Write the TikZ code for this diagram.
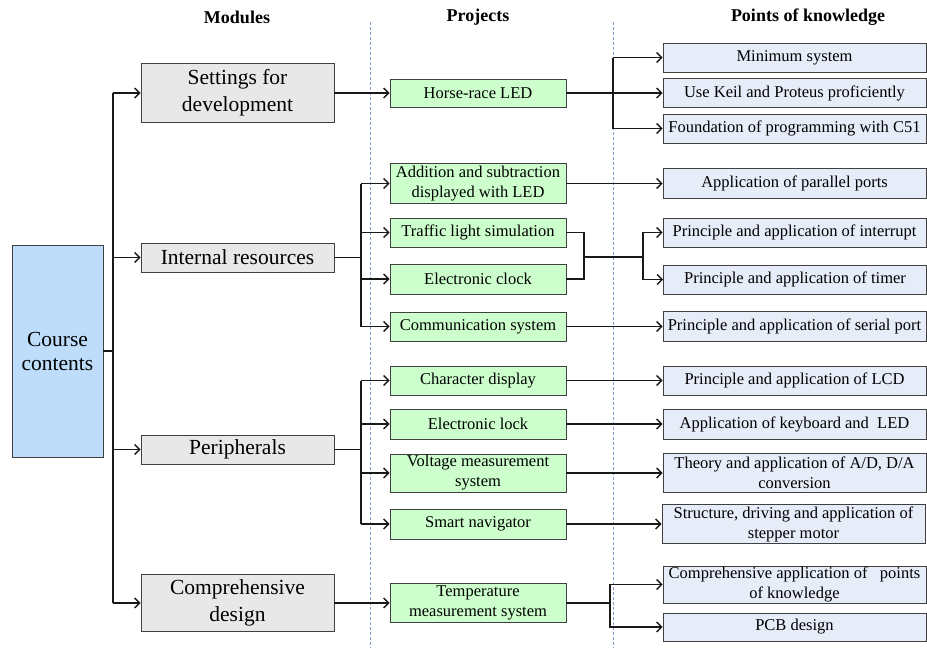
\documentclass[tikz,border=0pt]{standalone}
\usepackage{fontspec}
\setmainfont{Liberation Serif}
\usetikzlibrary{arrows.meta}
\definecolor{coursefill}{HTML}{BDDDFB}
\definecolor{modfill}{HTML}{E8E8E8}
\definecolor{projfill}{HTML}{CCFFCC}
\definecolor{knowfill}{HTML}{E6ECF8}
\definecolor{dashcol}{HTML}{7F9FD0}
\tikzset{
  box/.style={draw=black!75, line width=0.9pt, inner sep=0pt, align=center},
  course/.style={box, fill=coursefill, minimum width=91pt, font=\fontsize{21.5}{24}\selectfont},
  module/.style={box, fill=modfill, minimum width=193pt, font=\fontsize{21.5}{27}\selectfont},
  proj/.style={box, fill=projfill, minimum width=176pt, font=\fontsize{16.5}{20}\selectfont},
  know/.style={box, fill=knowfill, minimum width=263pt, font=\fontsize{16.5}{20}\selectfont},
  head/.style={font=\fontsize{18}{22}\selectfont\bfseries},
  conn/.style={line width=1.3pt, black!90},
  arr/.style={conn, -{Straight Barb[length=5pt,width=10pt]}},
  sep/.style={dashcol, line width=0.9pt, dash pattern=on 3pt off 2pt}
}
\begin{document}
\begin{tikzpicture}[x=1pt,y=-1pt]
\useasboundingbox (0,0) rectangle (927,649);
% headers
\node[head] (hm) at (237,17) {Modules};
\node[head] (hp) at (478,17) {Projects};
\node[head] (hk) at (808,17) {Points of knowledge};
% separators
\draw[sep] (370,22) -- (370,648);
\draw[sep] (613,22) -- (613,648);
% course
\node[course, minimum height=212pt] (course) at (57.5,351) {Course\\contents};
% modules
\node[module, minimum height=59pt] (set) at (237.5,93) {Settings for\\development};
\node[module, minimum height=29pt] (int) at (237.5,257.5) {Internal resources};
\node[module, minimum height=29pt] (per) at (237.5,449.5) {Peripherals};
\node[module, minimum height=57pt] (comp) at (237.5,603) {Comprehensive\\design};
% projects
\node[proj, minimum height=28pt] (horse) at (478,93) {Horse-race LED};
\node[proj, minimum height=40pt] (add) at (478,183.5) {Addition and subtraction\\displayed with LED};
\node[proj, minimum height=29pt] (traffic) at (478,232.5) {Traffic light simulation};
\node[proj, minimum height=30pt] (clock) at (478,279) {Electronic clock};
\node[proj, minimum height=29pt] (comm) at (478,326.5) {Communication system};
\node[proj, minimum height=29pt] (char) at (478,380.5) {Character display};
\node[proj, minimum height=30pt] (lock) at (478,424) {Electronic lock};
\node[proj, minimum height=38pt] (volt) at (478,473) {Voltage measurement\\system};
\node[proj, minimum height=30pt] (smart) at (478,524) {Smart navigator};
\node[proj, minimum height=39pt] (temp) at (478,603) {Temperature\\measurement system};
% knowledge
\node[know, minimum height=29pt] (min) at (794.5,57.5) {Minimum system};
\node[know, minimum height=29pt] (keil) at (794.5,93) {Use Keil and Proteus proficiently};
\node[know, minimum height=29pt] (c51) at (794.5,128.5) {Foundation of programming with C51};
\node[know, minimum height=30pt] (par) at (794.5,183.5) {Application of parallel ports};
\node[know, minimum height=29pt] (intr) at (794.5,232.5) {Principle and application of interrupt};
\node[know, minimum height=29pt] (timer) at (795,279.5) {Principle and application of timer};
\node[know, minimum height=30pt] (serial) at (794.5,326.5) {Principle and application of serial port};
\node[know, minimum height=29pt] (lcd) at (794.5,380.5) {Principle and application of LCD};
\node[know, minimum height=30pt] (kbd) at (794.5,424) {Application of keyboard and~ LED};
\node[know, minimum height=39pt] (ad) at (794.5,473) {Theory and application of A/D, D/A\\conversion};
\node[know, minimum height=39pt] (step) at (793.5,524) {Structure, driving and application of\\stepper motor};
\node[know, minimum height=37pt] (compk) at (794.5,584.5) {Comprehensive application of ~~points\\of knowledge};
\node[know, minimum height=28pt] (pcb) at (794.5,627) {PCB design};
% trunk
\coordinate (t) at (113,351);
\draw[conn] (course.east) -- (t);
\draw[conn] (t |- set) -- (t |- comp);
\foreach \m in {set,int,per,comp} \draw[arr] (t |- \m) -- (\m.west);
% modules to projects
\draw[arr] (set.east) -- (horse.west);
\draw[arr] (comp.east) -- (temp.west);
\coordinate (ib) at (361,257.5);
\draw[conn] (int.east) -- (ib);
\draw[conn] (ib |- add) -- (ib |- comm);
\foreach \p in {add,traffic,clock,comm} \draw[arr] (ib |- \p) -- (\p.west);
\coordinate (pb) at (361,449.5);
\draw[conn] (per.east) -- (pb);
\draw[conn] (pb |- char) -- (pb |- smart);
\foreach \p in {char,lock,volt,smart} \draw[arr] (pb |- \p) -- (\p.west);
% projects to knowledge
\coordinate (hb) at (613,93);
\draw[conn] (horse.east) -- (hb);
\draw[conn] (hb |- min) -- (hb |- c51);
\foreach \k in {min,keil,c51} \draw[arr] (hb |- \k) -- (\k.west);
\draw[arr] (add.east) -- (par.west);
\coordinate (tc) at (584,257);
\coordinate (tk) at (643,257);
\draw[conn] (traffic.east) -| (tc) |- (clock.east);
\draw[conn] (tc) -- (tk);
\draw[arr] (tk) |- (intr.west);
\draw[arr] (tk) |- (timer.west);
\draw[arr] (comm.east) -- (serial.west);
\draw[arr] (char.east) -- (lcd.west);
\draw[arr] (lock.east) -- (kbd.west);
\draw[arr] (volt.east) -- (ad.west);
\draw[arr] (smart.east) -- (step.west);
\coordinate (tb) at (610,603);
\draw[conn] (temp.east) -- (tb);
\draw[arr] (tb) |- (compk.west);
\draw[arr] (tb) |- (pcb.west);
\end{tikzpicture}
\end{document}
